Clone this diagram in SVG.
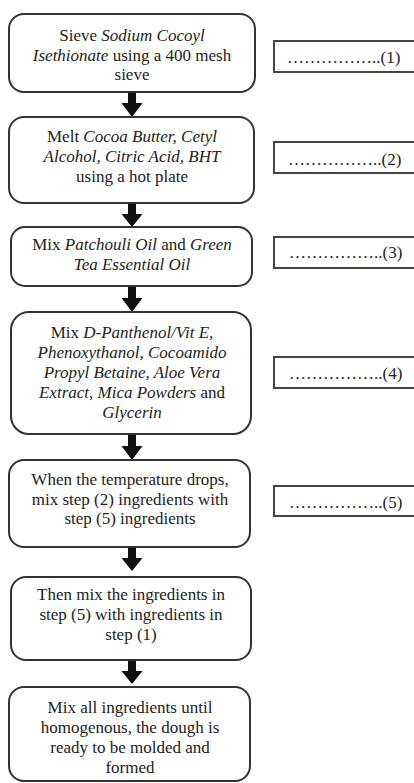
<svg xmlns="http://www.w3.org/2000/svg" width="414" height="783" viewBox="0 0 414 783">
<style>
.step{fill:#fff;stroke:#333;stroke-width:2}
.note{fill:#fff;stroke:#444;stroke-width:2}
text{font-family:"Liberation Serif","Times New Roman",serif;font-size:17px;fill:#222}
.c{text-anchor:middle}
.i{font-style:italic}
.arrow{fill:#111}
</style>
<rect width="414" height="783" fill="#fff"/>
<g id="connectors">
<path class="arrow" d="M128 92 H136 V103 H142.5 L132 117 L121.5 103 H128 Z"/>
<path class="arrow" d="M128 203 H136 V214 H142.5 L132 227 L121.5 214 H128 Z"/>
<path class="arrow" d="M128 286 H136 V298 H142.5 L132 312 L121.5 298 H128 Z"/>
<path class="arrow" d="M128 434 H136 V446 H142.5 L132 460 L121.5 446 H128 Z"/>
<path class="arrow" d="M128 547 H136 V558 H142.5 L132 571 L121.5 558 H128 Z"/>
<path class="arrow" d="M128 660 H136 V671 H142.5 L132 684 L121.5 671 H128 Z"/>
</g>
<g id="step1">
<rect class="step" x="9" y="14" width="246" height="78" rx="15"/>
<text class="c" x="132" y="41">Sieve <tspan class="i">Sodium Cocoyl</tspan></text>
<text class="c" x="132" y="61"><tspan class="i">Isethionate</tspan> using a 400 mesh</text>
<text class="c" x="132" y="80">sieve</text>
</g>
<g id="step2">
<rect class="step" x="9" y="117" width="245" height="86" rx="15"/>
<text class="c" x="132" y="142">Melt <tspan class="i">Cocoa Butter, Cetyl</tspan></text>
<text class="c i" x="132" y="162">Alcohol, Citric Acid, BHT</text>
<text class="c" x="132" y="182">using a hot plate</text>
</g>
<g id="step3">
<rect class="step" x="11" y="227" width="241" height="59" rx="14"/>
<text class="c" x="132" y="250">Mix <tspan class="i">Patchouli Oil</tspan> and <tspan class="i">Green</tspan></text>
<text class="c i" x="132" y="270">Tea Essential Oil</text>
</g>
<g id="step4">
<rect class="step" x="11" y="312" width="240" height="122" rx="18"/>
<text class="c" x="132" y="338">Mix <tspan class="i">D-Panthenol/Vit E,</tspan></text>
<text class="c i" x="132" y="358">Phenoxythanol, Cocoamido</text>
<text class="c i" x="132" y="378">Propyl Betaine, Aloe Vera</text>
<text class="c" x="132" y="398"><tspan class="i">Extract, Mica Powders</tspan> and</text>
<text class="c i" x="132" y="418">Glycerin</text>
</g>
<g id="step5">
<rect class="step" x="9" y="460" width="241" height="87" rx="15"/>
<text class="c" x="130" y="485">When the temperature drops,</text>
<text class="c" x="130" y="505">mix step (2) ingredients with</text>
<text class="c" x="130" y="524">step (5) ingredients</text>
</g>
<g id="step6">
<rect class="step" x="11" y="577" width="240" height="83" rx="15"/>
<text class="c" x="131" y="600">Then mix the ingredients in</text>
<text class="c" x="131" y="620">step (5) with ingredients in</text>
<text class="c" x="131" y="640">step (1)</text>
</g>
<g id="step7">
<rect class="step" x="9" y="687" width="241" height="94" rx="15"/>
<text class="c" x="130" y="713">Mix all ingredients until</text>
<text class="c" x="130" y="733">homogenous, the dough is</text>
<text class="c" x="130" y="753">ready to be molded and</text>
<text class="c" x="130" y="773">formed</text>
</g>
<g id="note1">
<rect class="note" x="274" y="41" width="160" height="31"/>
<text x="287" y="63">……………..(1)</text>
</g>
<g id="note2">
<rect class="note" x="274" y="142" width="160" height="31"/>
<text x="288" y="165">……………..(2)</text>
</g>
<g id="note3">
<rect class="note" x="274" y="237" width="160" height="31"/>
<text x="289" y="258">……………..(3)</text>
</g>
<g id="note4">
<rect class="note" x="274" y="357" width="160" height="31"/>
<text x="289" y="379">……………..(4)</text>
</g>
<g id="note5">
<rect class="note" x="274" y="486" width="160" height="30"/>
<text x="289" y="508">……………..(5)</text>
</g>
</svg>
